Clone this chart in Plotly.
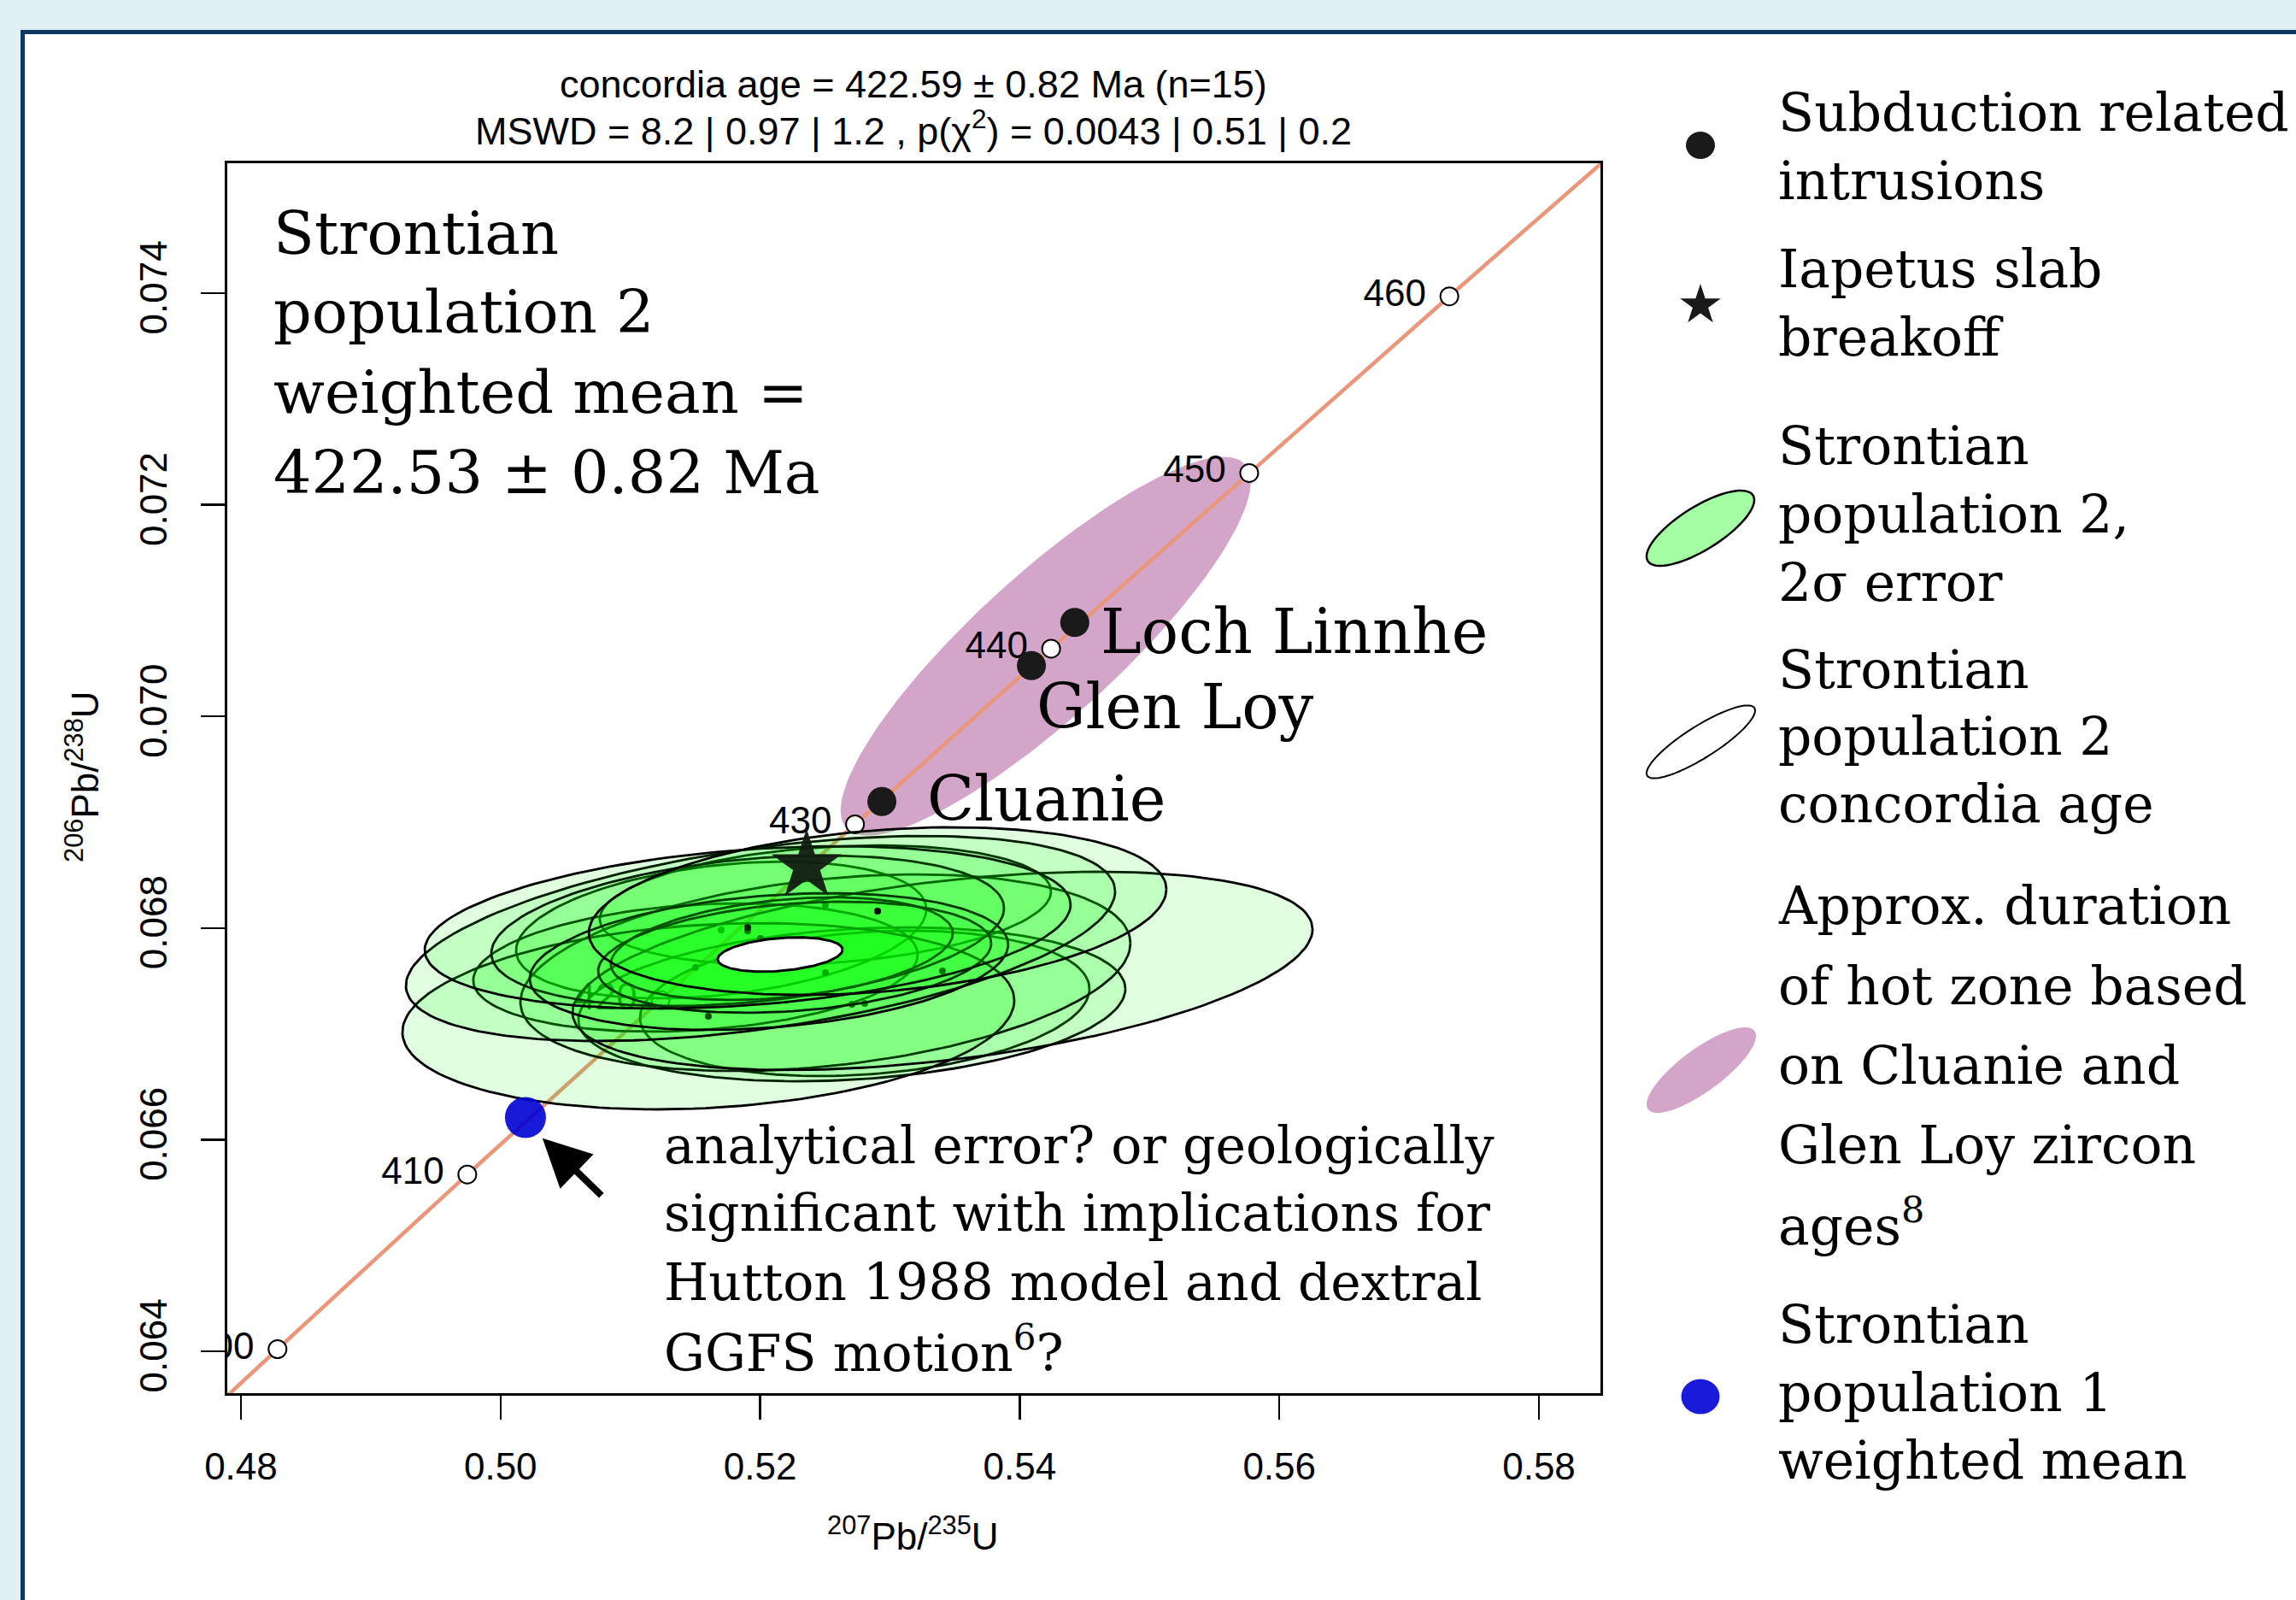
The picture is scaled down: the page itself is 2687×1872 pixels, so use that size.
import numpy as np
import plotly.graph_objects as go

# ---------------- data ----------------
# concordia line points (age in Ma)
conc_age = [390, 400, 410, 420, 430, 440, 450, 460, 470]
conc_x = [0.46829, 0.48282, 0.49744, 0.51233, 0.52731, 0.54242, 0.55768, 0.57310, 0.58858]
conc_y = [0.062366, 0.064020, 0.065670, 0.067320, 0.068980, 0.070640, 0.072300, 0.073970, 0.075633]

# labelled age ticks on the concordia
tick_age = [400, 410, 420, 430, 440, 450, 460]
tick_x = [0.48282, 0.49744, 0.51233, 0.52731, 0.54242, 0.55768, 0.57310]
tick_y = [0.064020, 0.065670, 0.067320, 0.068980, 0.070640, 0.072300, 0.073970]

# Strontian population 2 analyses (error ellipses): centre, half-widths, correlation
sr_x = [0.51700, 0.52503, 0.52806, 0.52707, 0.51502, 0.52503, 0.51601, 0.53405,
        0.52003, 0.51904, 0.52167, 0.52266, 0.52068, 0.51904, 0.52905]
sr_sx = [0.01580, 0.01738, 0.01731, 0.02107, 0.01712, 0.02350, 0.02357, 0.02851,
         0.02732, 0.01975, 0.01317, 0.01514, 0.01843, 0.02488, 0.02225]
sr_y = [0.067982, 0.068216, 0.067288, 0.067279, 0.067627, 0.067578, 0.067166, 0.067595,
        0.067901, 0.067974, 0.067805, 0.067724, 0.067683, 0.068006, 0.068160]
sr_sy = [0.000646, 0.000565, 0.000687, 0.000727, 0.000606, 0.000929, 0.000880, 0.000937,
         0.000969, 0.000711, 0.000485, 0.000525, 0.000646, 0.000767, 0.000792]
sr_rho = [0.30, 0.23, 0.20, 0.20, 0.20, 0.30, 0.17, 0.42,
          0.46, 0.30, 0.30, 0.25, 0.25, 0.28, 0.26]

# concordia age ellipse
cc_x, cc_sx, cc_y, cc_sy, cc_rho = 0.52154, 0.00481, 0.067750, 0.000162, 0.28

# hot zone ellipse (Cluanie - Glen Loy)
hz_x, hz_sx, hz_y, hz_sy, hz_rho = 0.54200, 0.01580, 0.070664, 0.00179, 0.868

# subduction related intrusions
intr_name = ["Cluanie", "Glen Loy", "Loch Linnhe"]
intr_x = [0.52938, 0.54090, 0.54424]
intr_y = [0.069196, 0.070480, 0.070888]

# Iapetus slab breakoff
star_x, star_y = 0.52358, 0.068588

# Strontian population 1 weighted mean
pop1_x, pop1_y = 0.50192, 0.066209

x_ticks = [0.48, 0.50, 0.52, 0.54, 0.56, 0.58]
x_ticktext = ["0.48", "0.50", "0.52", "0.54", "0.56", "0.58"]
y_ticks = [0.064, 0.066, 0.068, 0.070, 0.072, 0.074]
y_ticktext = ["0.064", "0.066", "0.068", "0.070", "0.072", "0.074"]

# ---------------- layout geometry ----------------
W, H = 2687, 1872
L, R, T, B = 266, 1873, 191, 1630
XR = [0.47895, 0.58474]
YR = [0.063604, 0.075228]

SANS = "Liberation Sans, Arial, sans-serif"
SERIF = "DejaVu Serif, serif"


def fx(px):
    return (px - L) / (R - L)


def fy(py):
    return (B - py) / (B - T)


def ellipse(cx, sx, cy, sy, rho, n=160):
    t = np.linspace(0, 2 * np.pi, n)
    x = cx + sx * np.cos(t)
    y = cy + sy * (rho * np.cos(t) + np.sqrt(1 - rho ** 2) * np.sin(t))
    return x, y


def path_from_px(xs, ys):
    pts = ["%s%.5f,%.5f" % ("M" if i == 0 else "L", fx(a), fy(b)) for i, (a, b) in enumerate(zip(xs, ys))]
    return " ".join(pts) + " Z"


def px_ellipse_path(cx, cy, hw, hh, rho, n=80):
    t = np.linspace(0, 2 * np.pi, n)
    xs = cx + hw * np.cos(t)
    ys = cy - hh * (rho * np.cos(t) + np.sqrt(1 - rho ** 2) * np.sin(t))
    return path_from_px(xs, ys)


def px_star_path(cx, cy, r_out, ratio=0.382):
    ang = np.pi / 2 + np.arange(10) * np.pi / 5
    rad = np.where(np.arange(10) % 2 == 0, r_out, r_out * ratio)
    xs = cx + rad * np.cos(ang)
    ys = cy - rad * np.sin(ang)
    return path_from_px(xs, ys)


def px_circle(cx, cy, rx, ry, color):
    return dict(type="circle", xref="paper", yref="paper", x0=fx(cx - rx), x1=fx(cx + rx),
                y0=fy(cy + ry), y1=fy(cy - ry), fillcolor=color, line=dict(width=0))


fig = go.Figure()

# hot zone ellipse
hx, hy = ellipse(hz_x, hz_sx, hz_y, hz_sy, hz_rho)
fig.add_trace(go.Scatter(x=hx, y=hy, mode="lines", fill="toself", fillcolor="#d3a6c9",
                         line=dict(width=0, color="#d3a6c9"), hoverinfo="skip"))

# concordia line
fig.add_trace(go.Scatter(x=conc_x, y=conc_y, mode="lines",
                         line=dict(color="#e9967a", width=4.5), hoverinfo="skip"))

# age labels
fig.add_trace(go.Scatter(x=tick_x, y=tick_y, mode="markers+text",
                         text=[str(a) for a in tick_age], textposition="middle left",
                         marker=dict(size=42, color="rgba(0,0,0,0)"),
                         textfont=dict(family=SANS, size=44, color="black"),
                         cliponaxis=True, hoverinfo="skip"))
fig.add_trace(go.Scatter(x=tick_x, y=tick_y, mode="markers",
                         marker=dict(size=21, color="white", line=dict(color="black", width=2)),
                         hoverinfo="skip"))

# intrusions
fig.add_trace(go.Scatter(x=intr_x, y=intr_y, mode="markers",
                         marker=dict(size=34, color="#1a1a1a"), hoverinfo="skip"))

# Strontian population 2 ellipses
for i in range(len(sr_x)):
    ex, ey = ellipse(sr_x[i], sr_sx[i], sr_y[i], sr_sy[i], sr_rho[i])
    fig.add_trace(go.Scatter(x=ex, y=ey, mode="lines", fill="toself",
                             fillcolor="rgba(0,255,0,0.12)",
                             line=dict(color="black", width=2.8), hoverinfo="skip"))
    fig.add_trace(go.Scatter(x=[sr_x[i]], y=[sr_y[i]], mode="markers",
                             marker=dict(size=8, color="black"), hoverinfo="skip"))

# star (Iapetus slab breakoff)
fig.add_trace(go.Scatter(x=[star_x], y=[star_y], mode="markers",
                         marker=dict(size=62, symbol="star", color="rgba(18,28,18,0.95)"),
                         hoverinfo="skip"))

# concordia age ellipse
cx_, cy_ = ellipse(cc_x, cc_sx, cc_y, cc_sy, cc_rho)
fig.add_trace(go.Scatter(x=cx_, y=cy_, mode="lines", fill="toself", fillcolor="white",
                         line=dict(color="black", width=3), hoverinfo="skip"))

# population 1 weighted mean
fig.add_trace(go.Scatter(x=[pop1_x], y=[pop1_y], mode="markers",
                         marker=dict(size=48, color="rgba(0,0,212,0.9)"), hoverinfo="skip"))

shapes = [
    dict(type="rect", xref="paper", yref="paper", x0=fx(26.5), x1=fx(2720), y0=fy(1900), y1=fy(37.5),
         fillcolor="white", line=dict(color="#0c3761", width=5), layer="below"),
    # legend symbols
    px_circle(1990, 170, 17, 16, "#1a1a1a"),
    dict(type="path", xref="paper", yref="paper", path=px_star_path(1990, 357, 25),
         fillcolor="#1a1a1a", line=dict(width=0)),
    dict(type="path", xref="paper", yref="paper", path=px_ellipse_path(1990, 618, 63, 44, 0.75),
         fillcolor="#a4ffa4", line=dict(color="black", width=2.5)),
    dict(type="path", xref="paper", yref="paper", path=px_ellipse_path(1990.5, 868, 63.5, 42.6, 0.86),
         fillcolor="white", line=dict(color="black", width=2)),
    dict(type="path", xref="paper", yref="paper", path=px_ellipse_path(1991, 1252, 64, 50, 0.8),
         fillcolor="#d3a6c9", line=dict(width=0)),
    px_circle(1990, 1634, 22.5, 20.5, "#1a1adb"),
]

annotations = []


def add_text(text, px, py, size, family=SERIF, xanchor="left", angle=0):
    annotations.append(dict(text=text, x=fx(px), y=fy(py), xref="paper", yref="paper",
                            xanchor=xanchor, yanchor="middle", showarrow=False, textangle=angle,
                            font=dict(family=family, size=size, color="black")))


# titles
add_text("concordia age = 422.59 \u00b1 0.82 Ma (n=15)", 1069, 98, 45, SANS, "center")
add_text("MSWD = 8.2 | 0.97 | 1.2 , p(\u03c7<sup>2</sup>) = 0.0043 | 0.51 | 0.2", 1069, 150, 45, SANS, "center")
add_text("<sup>207</sup>Pb/<sup>235</sup>U", 1068, 1794, 44, SANS, "center")
add_text("<sup>206</sup>Pb/<sup>238</sup>U", 96, 909, 44, SANS, "center", -90)

# big text
for txt, yy in zip(["Strontian", "population 2", "weighted mean =", "422.53 \u00b1 0.82 Ma"],
                   [273, 365, 459, 553]):
    add_text(txt, 318, yy, 70)

# intrusion labels
for txt, xx, yy in zip(intr_name, [1083, 1211, 1286], [935, 827, 739]):
    add_text(txt, xx, yy, 72)

# bottom note
for txt, yy in zip(["analytical error? or geologically", "significant with implications for",
                    "Hutton 1988 model and dextral", "GGFS motion<sup>6</sup>?"],
                   [1340, 1419, 1500, 1579]):
    add_text(txt, 775, yy, 60)

# legend text
legend_lines = [
    ("Subduction related", 132), ("intrusions", 212),
    ("Iapetus slab", 315), ("breakoff", 395),
    ("Strontian", 522), ("population 2,", 602), ("2\u03c3 error", 682),
    ("Strontian", 784), ("population 2", 862), ("concordia age", 941),
    ("Approx. duration", 1060), ("of hot zone based", 1154), ("on Cluanie and", 1247),
    ("Glen Loy zircon", 1340), ("ages<sup>8</sup>", 1430),
    ("Strontian", 1550), ("population 1", 1630), ("weighted mean", 1709),
]
for txt, yy in legend_lines:
    add_text(txt, 2079, yy, 61.5)

# arrow
annotations.append(dict(x=0.50323, y=0.066014, ax=0.50787, ay=0.065462, xref="x", yref="y",
                        axref="x", ayref="y", showarrow=True, arrowhead=2, arrowsize=1.4,
                        arrowwidth=8, arrowcolor="black", text=""))

fig.update_layout(
    width=W, height=H,
    margin=dict(l=L, r=W - R, t=T, b=H - B, pad=0),
    paper_bgcolor="#dff0f4", plot_bgcolor="white",
    showlegend=False,
    shapes=shapes, annotations=annotations,
    xaxis=dict(range=XR, tickvals=x_ticks, ticktext=x_ticktext, ticks="outside", ticklen=28,
               tickwidth=2.5, tickcolor="black", showline=True, mirror=True, linecolor="black",
               linewidth=3, showgrid=False, zeroline=False,
               tickfont=dict(family=SANS, size=44, color="black"), ticklabelstandoff=17),
    yaxis=dict(range=YR, tickvals=y_ticks, ticktext=y_ticktext, ticks="outside", ticklen=28,
               tickwidth=2.5, tickcolor="black", showline=True, mirror=True, linecolor="black",
               linewidth=3, showgrid=False, zeroline=False, tickangle=-90,
               tickfont=dict(family=SANS, size=44, color="black"), ticklabelstandoff=22),
)

fig.write_html(
    "out.html",
    config={"displayModeBar": False, "staticPlot": True},
    post_script="document.body.style.margin='0';document.body.style.padding='0';"
                "document.body.style.overflow='hidden';document.body.style.background='#dff0f4';",
)
